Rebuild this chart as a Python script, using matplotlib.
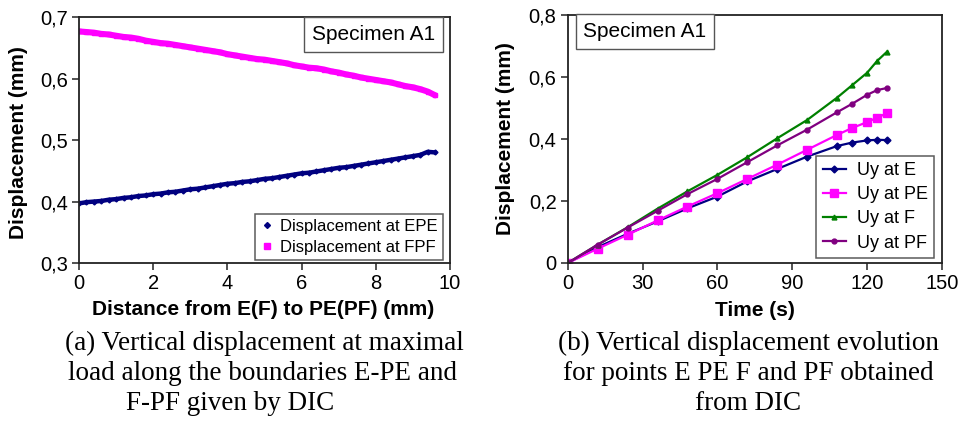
import matplotlib
matplotlib.use("Agg")
import matplotlib.pyplot as plt
from matplotlib.ticker import FuncFormatter, FixedLocator
from matplotlib.lines import Line2D

plt.rcParams['font.family'] = ['Liberation Sans', 'DejaVu Sans']

# ---------------- data: panel (a) ----------------
dist_mm = [0.0, 0.2, 0.4, 0.6, 0.8, 1.0, 1.2, 1.4, 1.6, 1.8,
           2.0, 2.2, 2.4, 2.6, 2.8, 3.0, 3.2, 3.4, 3.6, 3.8,
           4.0, 4.2, 4.4, 4.6, 4.8, 5.0, 5.2, 5.4, 5.6, 5.8,
           6.0, 6.2, 6.4, 6.6, 6.8, 7.0, 7.2, 7.4, 7.6, 7.8,
           8.0, 8.2, 8.4, 8.6, 8.8, 9.0, 9.2, 9.4, 9.6]
disp_epe = [0.397, 0.399, 0.400, 0.401, 0.403, 0.404, 0.406, 0.407, 0.409, 0.410,
            0.412, 0.413, 0.415, 0.416, 0.418, 0.420, 0.421, 0.423, 0.425, 0.427,
            0.429, 0.430, 0.432, 0.433, 0.435, 0.437, 0.438, 0.440, 0.442, 0.444,
            0.446, 0.447, 0.449, 0.451, 0.453, 0.455, 0.456, 0.458, 0.460, 0.462,
            0.464, 0.466, 0.468, 0.470, 0.472, 0.474, 0.476, 0.481, 0.480]
disp_fpf = [0.677, 0.676, 0.675, 0.673, 0.672, 0.670, 0.668, 0.667, 0.665, 0.662,
            0.660, 0.658, 0.657, 0.655, 0.653, 0.651, 0.649, 0.647, 0.645, 0.643,
            0.640, 0.638, 0.636, 0.634, 0.632, 0.631, 0.629, 0.627, 0.625, 0.622,
            0.620, 0.618, 0.617, 0.615, 0.612, 0.610, 0.607, 0.605, 0.602, 0.600,
            0.598, 0.596, 0.594, 0.591, 0.588, 0.586, 0.583, 0.579, 0.573]

# ---------------- data: panel (b) ----------------
time_s = [0, 12, 24, 36, 48, 60, 72, 84, 96, 108, 114, 120, 124, 128]
uy_e = [0.0, 0.051, 0.094, 0.134, 0.176, 0.214, 0.263, 0.303, 0.343, 0.377, 0.388, 0.395, 0.397, 0.396]
uy_pe = [0.0, 0.046, 0.091, 0.137, 0.182, 0.225, 0.271, 0.317, 0.365, 0.413, 0.435, 0.454, 0.468, 0.483]
uy_f = [0.0, 0.059, 0.115, 0.175, 0.231, 0.284, 0.341, 0.402, 0.461, 0.533, 0.573, 0.613, 0.651, 0.681]
uy_pf = [0.0, 0.059, 0.114, 0.168, 0.222, 0.271, 0.325, 0.379, 0.430, 0.486, 0.513, 0.542, 0.557, 0.564]

xticks_a = [0, 2, 4, 6, 8, 10]
yticks_a = [0.3, 0.4, 0.5, 0.6, 0.7]
xticks_b = [0, 30, 60, 90, 120, 150]
yticks_b = [0.0, 0.2, 0.4, 0.6, 0.8]

NAVY = '#000080'
MAGENTA = '#FF00FF'
GREEN = '#008000'
PURPLE = '#800080'

W, H = 962, 423
fig = plt.figure(figsize=(W / 100, H / 100), dpi=100)


def comma(v, pos):
    s = ('%g' % round(v, 3))
    return s.replace('.', ',')


def style_axes(ax):
    for sp in ax.spines.values():
        sp.set_linewidth(1.3)
        sp.set_color('#222222')
    ax.tick_params(direction='out', length=5, width=1.1, labelsize=14.5,
                   colors='#222222', labelcolor='black', pad=3)
    ax.yaxis.set_major_formatter(FuncFormatter(comma))


# ---------- panel (a) ----------
ax1 = fig.add_axes([79 / W, 1 - 263 / H, (450 - 79) / W, (263 - 17.3) / H])
ax1.plot(dist_mm, disp_epe, color=NAVY, lw=3.2, marker='D', ms=2.5,
         solid_capstyle='round')
ax1.plot(dist_mm, disp_fpf, color=MAGENTA, lw=4.4, marker='s', ms=3.5,
         solid_capstyle='round')
ax1.set_xlim(0, 10)
ax1.set_ylim(0.3, 0.7)
ax1.xaxis.set_major_locator(FixedLocator(xticks_a))
ax1.yaxis.set_major_locator(FixedLocator(yticks_a))
style_axes(ax1)
ax1.set_xlabel('Distance from E(F) to PE(PF) (mm)', fontsize=15,
               fontweight='bold', va='center')
ax1.xaxis.set_label_coords(0.496, -0.191)
ax1.set_ylabel('Displacement (mm)', fontsize=15, fontweight='bold', va='center')
ax1.yaxis.set_label_coords(-0.164, 0.49)

h1 = [Line2D([], [], color=NAVY, marker='D', ms=3, lw=0),
      Line2D([], [], color=MAGENTA, marker='s', ms=5, lw=0)]
leg1 = ax1.legend(h1, ['Displacement at EPE', 'Displacement at FPF'],
                  loc='lower right', bbox_to_anchor=(0.981, 0.012),
                  borderaxespad=0, fontsize=12, frameon=True, fancybox=False,
                  handlelength=0.8, handletextpad=0.4, labelspacing=0.35,
                  borderpad=0.3)
leg1.get_frame().set_edgecolor('#333333')
leg1.get_frame().set_linewidth(1.1)

ax1.text(0.795, 0.93, 'Specimen A1', transform=ax1.transAxes, fontsize=15,
         ha='center', va='center',
         bbox=dict(boxstyle='square,pad=0.38', fc='white', ec='#555555', lw=1.0))

# ---------- panel (b) ----------
ax2 = fig.add_axes([567.7 / W, 1 - 263 / H, (942 - 567.7) / W, (263 - 14.7) / H])
ax2.plot(time_s, uy_e, color=NAVY, lw=1.6, marker='D', ms=3.5, label='Uy at E')
ax2.plot(time_s, uy_pe, color=MAGENTA, lw=1.6, marker='s', ms=5.5, label='Uy at PE')
ax2.plot(time_s, uy_f, color=GREEN, lw=1.6, marker='^', ms=3.5, label='Uy at F')
ax2.plot(time_s, uy_pf, color=PURPLE, lw=1.6, marker='o', ms=3.5, label='Uy at PF')
ax2.set_xlim(0, 150)
ax2.set_ylim(0, 0.8)
ax2.xaxis.set_major_locator(FixedLocator(xticks_b))
ax2.yaxis.set_major_locator(FixedLocator(yticks_b))
style_axes(ax2)
ax2.set_xlabel('Time (s)', fontsize=15, fontweight='bold', va='center')
ax2.xaxis.set_label_coords(0.5, -0.19)
ax2.set_ylabel('Displacement (mm)', fontsize=15, fontweight='bold', va='center')
ax2.yaxis.set_label_coords(-0.165, 0.503)

leg2 = ax2.legend(loc='lower right', bbox_to_anchor=(0.979, 0.02),
                  borderaxespad=0, fontsize=13, frameon=True, fancybox=False,
                  handlelength=1.3, handletextpad=0.6, labelspacing=0.4,
                  borderpad=0.35, markerscale=1.0)
leg2.get_frame().set_edgecolor('#333333')
leg2.get_frame().set_linewidth(1.1)

ax2.text(0.2065, 0.934, 'Specimen A1', transform=ax2.transAxes, fontsize=15,
         ha='center', va='center',
         bbox=dict(boxstyle='square,pad=0.38', fc='white', ec='#555555', lw=1.0))

# ---------- captions ----------
serif = ['Liberation Serif', 'DejaVu Serif']
cap_fs = 19.5
fig.text(264 / W, 1 - 343 / H, '(a) Vertical displacement at maximal',
         ha='center', va='center', fontsize=cap_fs, family=serif)
fig.text(262 / W, 1 - 373 / H, 'load along the boundaries E-PE and',
         ha='center', va='center', fontsize=cap_fs, family=serif)
fig.text(230 / W, 1 - 403 / H, 'F-PF given by DIC',
         ha='center', va='center', fontsize=cap_fs, family=serif)
fig.text(748 / W, 1 - 343 / H, '(b) Vertical displacement evolution',
         ha='center', va='center', fontsize=cap_fs, family=serif)
fig.text(748 / W, 1 - 373 / H, 'for points E PE F and PF obtained',
         ha='center', va='center', fontsize=cap_fs, family=serif)
fig.text(748 / W, 1 - 403 / H, 'from DIC',
         ha='center', va='center', fontsize=cap_fs, family=serif)

fig.savefig('out.png', dpi=100)
